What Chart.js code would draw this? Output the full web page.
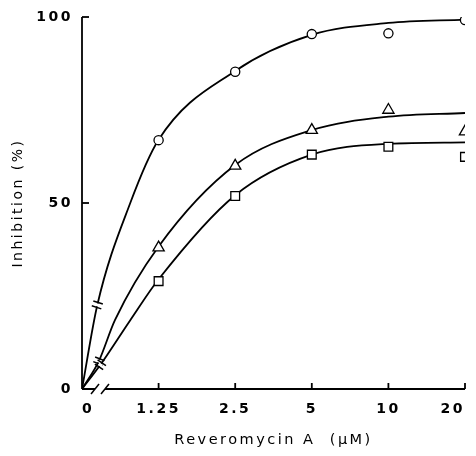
<!DOCTYPE html>
<html lang="en">
<head>
<meta charset="UTF-8">
<title>Reveromycin A inhibition</title>
<script src="https://cdn.jsdelivr.net/npm/chart.js"></script>
<style>
  html, body { margin: 0; padding: 0; background: #fff; }
  #wrap { width: 476px; height: 456px; position: relative; }
</style>
</head>
<body>
<div id="wrap"><canvas id="chart"></canvas></div>
<script>
// x categories are evenly spaced on the page, so they sit at positions 0..5
const doseLabels = ['0', '1.25', '2.5', '5', '10', '20'];
const markerPos = [1, 2, 3, 4, 5];

// measured points
const circleVals   = [66.9, 85.3, 95.4, 95.6, 99.2];
const triangleVals = [38.0, 60.0, 69.6, 75.0, 69.2];
const squareVals   = [29.0, 51.9, 63.0, 65.1, 62.4];

// fitted curves
const circleFitX   = [0, 0.2, 0.63, 1, 2, 3, 4, 5];
const circleFitY   = [0, 22.6, 50, 67, 85.5, 95.2, 98.4, 99.3];
const triangleFitX = [0, 0.22, 0.43, 1, 2, 3, 4, 5];
const triangleFitY = [0, 7.5, 18.5, 38.3, 60.2, 69.6, 73.2, 74.2];
const squareFitX   = [0, 0.24, 0.63, 1, 2, 3, 4, 5];
const squareFitY   = [0, 6.5, 18.5, 29.5, 52.1, 63.0, 65.9, 66.3];

// break marks on the curves (index into the fit arrays)
const breakIdx = [1, 1, 1];

const pts = (xs, ys) => xs.map((x, i) => ({ x: x, y: ys[i] }));

const markerSet = (vals, style, r) => ({
  data: pts(markerPos, vals),
  showLine: false,
  pointStyle: style,
  pointRadius: r,
  pointBorderWidth: 1.3,
  pointBorderColor: '#000',
  pointBackgroundColor: '#fff'
});

const fitSet = (xs, ys) => ({
  data: pts(xs, ys),
  showLine: true,
  borderColor: '#000',
  borderWidth: 1.8,
  pointRadius: 0,
  cubicInterpolationMode: 'monotone',
  fill: false
});

// axis lines, inward ticks and break marks
const decor = {
  id: 'decor',
  beforeDraw(chart) {
    chart.ctx.letterSpacing = '2.5px';
  },
  afterDatasetsDraw(chart) {
    const ctx = chart.ctx;
    const xs = chart.scales.x, ys = chart.scales.y;
    const x0 = xs.getPixelForValue(0), x5 = xs.getPixelForValue(5);
    const y0 = ys.getPixelForValue(0), y100 = ys.getPixelForValue(100);
    ctx.save();
    ctx.letterSpacing = '0px';
    ctx.strokeStyle = '#000';
    ctx.lineWidth = 1.8;
    ctx.lineCap = 'butt';
    // y axis
    ctx.beginPath();
    ctx.moveTo(x0, y0); ctx.lineTo(x0, y100);
    ctx.stroke();
    // y ticks, pointing inward
    [0, 50, 100].forEach(v => {
      const y = ys.getPixelForValue(v);
      ctx.beginPath(); ctx.moveTo(x0, y); ctx.lineTo(x0 + 7, y); ctx.stroke();
    });
    // x axis with break
    const bA = xs.getPixelForValue(0.17), bB = xs.getPixelForValue(0.3);
    ctx.beginPath();
    ctx.moveTo(x0, y0); ctx.lineTo(bA, y0);
    ctx.moveTo(bB, y0); ctx.lineTo(x5, y0);
    ctx.stroke();
    ctx.lineWidth = 1.5;
    [bA, bB].forEach(bx => {
      ctx.beginPath(); ctx.moveTo(bx - 4, y0 + 5); ctx.lineTo(bx + 4, y0 - 5); ctx.stroke();
    });
    ctx.lineWidth = 1.8;
    for (let i = 1; i <= 5; i++) {
      const x = xs.getPixelForValue(i);
      ctx.beginPath(); ctx.moveTo(x, y0); ctx.lineTo(x, y0 - 6); ctx.stroke();
    }
    // curve breaks
    const fits = [[circleFitX, circleFitY], [triangleFitX, triangleFitY], [squareFitX, squareFitY]];
    fits.forEach((f, k) => {
      const i = breakIdx[k];
      const px = xs.getPixelForValue(f[0][i]), py = ys.getPixelForValue(f[1][i]);
      const qx = xs.getPixelForValue(f[0][i + 1]), qy = ys.getPixelForValue(f[1][i + 1]);
      let dx = qx - px, dy = qy - py;
      const len = Math.hypot(dx, dy); dx /= len; dy /= len;
      const nx = -dy, ny = dx;
      // white gap
      ctx.strokeStyle = '#fff'; ctx.lineWidth = 4;
      ctx.beginPath(); ctx.moveTo(px - dx * 1.5, py - dy * 1.5); ctx.lineTo(px + dx * 1.5, py + dy * 1.5); ctx.stroke();
      ctx.strokeStyle = '#000'; ctx.lineWidth = 1.5;
      [-2.5, 2.5].forEach(o => {
        const cx = px + dx * o, cy = py + dy * o;
        ctx.beginPath();
        ctx.moveTo(cx - nx * 5, cy - ny * 5); ctx.lineTo(cx + nx * 5, cy + ny * 5);
        ctx.stroke();
      });
    });
    ctx.restore();
  }
};

new Chart(document.getElementById('chart'), {
  type: 'line',
  data: {
    datasets: [
      markerSet(circleVals, 'circle', 4.6),
      markerSet(triangleVals, 'triangle', 6.5),
      markerSet(squareVals, 'rect', 6.2),
      fitSet(circleFitX, circleFitY),
      fitSet(triangleFitX, triangleFitY),
      fitSet(squareFitX, squareFitY)
    ]
  },
  options: {
    responsive: true,
    maintainAspectRatio: false,
    animation: false,
    layout: { padding: { left: 0, top: 17, right: 11, bottom: 0 } },
    plugins: { legend: { display: false }, tooltip: { enabled: false } },
    scales: {
      x: {
        type: 'linear',
        min: 0, max: 5,
        grid: { display: false, drawTicks: false },
        border: { display: false },
        ticks: {
          stepSize: 1,
          padding: 12,
          maxRotation: 0,
          align: 'inner',
          color: '#000',
          font: { family: 'DejaVu Sans', size: 14, weight: 'bold' },
          callback: v => doseLabels[v]
        },
        title: {
          display: true,
          text: 'Reveromycin A  (μM)',
          color: '#000',
          font: { family: 'DejaVu Sans', size: 14.5 },
          padding: { top: 0, bottom: 7 }
        },
        afterFit: s => { s.height = 67; s.paddingLeft = 0; s.paddingRight = 0; }
      },
      y: {
        min: 0, max: 100,
        grid: { display: false, drawTicks: false },
        border: { display: false },
        ticks: {
          stepSize: 50,
          padding: 9,
          color: '#000',
          font: { family: 'DejaVu Sans', size: 14, weight: 'bold' }
        },
        title: {
          display: true,
          text: 'Inhibition (%)',
          color: '#000',
          font: { family: 'DejaVu Sans', size: 14 },
          padding: { top: 10, bottom: 0 }
        },
        afterFit: s => { s.width = 82; s.paddingTop = 0; s.paddingBottom = 0; }
      }
    }
  },
  plugins: [decor]
});
</script>
</body>
</html>
